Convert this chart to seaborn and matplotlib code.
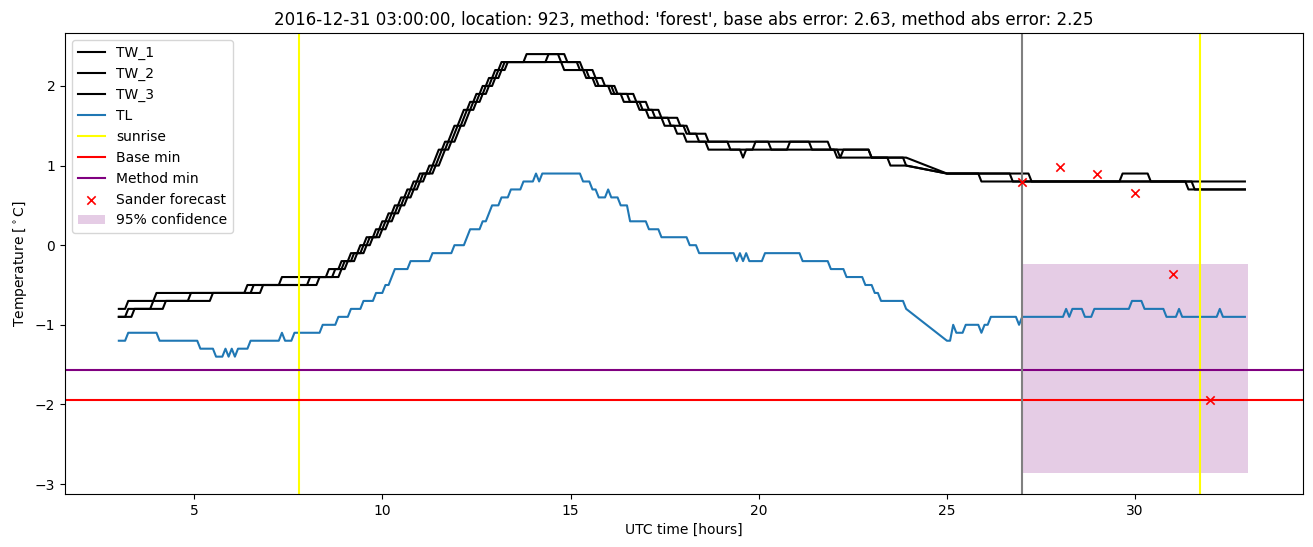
import numpy as np
import matplotlib
matplotlib.use("Agg")
import matplotlib.pyplot as plt
import seaborn as sns

# ---------------- data (5-minute samples, run-length encoded: level, number of samples) ----------------
start_hour = 3.0
step_minutes = 5
G = None  # missing samples (gap in the record)

tw1_levels = [-0.8, -0.7, -0.6, -0.5, -0.4, -0.3, -0.2, -0.1, 0.0, 0.1, 0.2, 0.3, 0.4, 0.5, 0.6, 0.7, 0.8,
              0.9, 1.0, 1.1, 1.2, 1.3, 1.4, 1.5, 1.6, 1.7, 1.8, 1.9, 2.0, 2.1, 2.2, 2.3, 2.4, 2.3, 2.2, 2.1,
              2.0, 1.9, 1.8, 1.7, 1.6, 1.5, 1.4, 1.3, 1.2, 1.1, 1.0, G, 0.9, 0.8, 0.7]
tw1_counts = [3, 9, 29, 11, 15, 4, 3, 3, 2, 3, 2, 2, 2, 2, 2, 2, 2,
              3, 2, 1, 2, 2, 1, 2, 1, 2, 2, 2, 2, 2, 2, 8, 13, 4, 3, 3,
              5, 5, 4, 4, 5, 5, 4, 42, 2, 17, 6, 12, 11, 66, 19]

tw2_levels = [-0.9, -0.8, -0.7, -0.6, -0.5, -0.4, -0.3, -0.2, -0.1, 0.0, 0.1, 0.2, 0.3, 0.4, 0.5, 0.6, 0.7,
              0.8, 0.9, 1.0, 1.1, 1.2, 1.3, 1.4, 1.5, 1.6, 1.7, 1.8, 1.9, 2.0, 2.1, 2.2, 2.3, 2.4, 2.3, 2.2,
              2.1, 2.0, 1.9, 1.8, 1.7, 1.6, 1.5, 1.4, 1.3, 1.2, 1.1, 1.2, 1.1, 1.2, 1.1, G, 0.9, 0.8, 0.7]
tw2_counts = [3, 8, 12, 20, 18, 8, 3, 3, 3, 2, 3, 2, 2, 2, 2, 2, 2,
              2, 3, 2, 1, 2, 2, 1, 2, 1, 2, 2, 2, 2, 2, 2, 14, 4, 1, 7,
              3, 5, 4, 5, 3, 5, 4, 3, 7, 11, 1, 30, 1, 9, 12, 12, 21, 58, 17]

tw3_levels = [-0.9, -0.8, -0.7, -0.6, -0.5, -0.4, -0.3, -0.2, -0.1, 0.0, 0.1, 0.2, 0.3, 0.4, 0.5, 0.6, 0.7,
              0.8, 0.9, 1.0, 1.1, 1.2, 1.3, 1.4, 1.5, 1.6, 1.7, 1.8, 1.9, 2.0, 2.1, 2.2, 2.3, 2.2, 2.1, 2.0,
              1.9, 1.8, 1.7, 1.6, 1.5, 1.4, 1.3, 1.2, 1.3, 1.2, 1.3, 1.2, 1.1, 1.0, G, 0.9, 0.8, 0.9, 0.8]
tw3_counts = [5, 10, 15, 16, 18, 7, 2, 3, 3, 2, 3, 2, 2, 2, 2, 2, 2,
              2, 3, 2, 1, 2, 2, 1, 2, 1, 2, 2, 2, 2, 2, 2, 24, 4, 3, 4,
              6, 4, 4, 6, 3, 6, 7, 8, 5, 6, 7, 19, 11, 1, 12, 27, 29, 9, 31]

tl_levels = [-1.2, -1.1, -1.2, -1.3, -1.4, -1.3, -1.4, -1.3, -1.4, -1.3, -1.2, -1.1, -1.2, -1.1, -1.0, -0.9,
             -0.8, -0.7, -0.6, -0.5, -0.4, -0.3, -0.2, -0.1, 0.0, 0.1, 0.2, 0.3, 0.4, 0.5, 0.6, 0.7, 0.8,
             0.9, 0.8, 0.9, 0.8, 0.7, 0.6, 0.7, 0.6, 0.5, 0.3, 0.2, 0.1, 0.0, -0.1, -0.2, -0.1, -0.2, -0.1,
             -0.2, -0.1, -0.2, -0.3, -0.4, -0.5, -0.6, -0.7, -0.8, G, -1.2, -1.0, -1.1, -1.0, -1.1, -1.0,
             -0.9, -1.0, -0.9, -0.8, -0.9, -0.8, -0.9, -0.8, -0.7, -0.8, -0.9, -0.8, -0.9, -0.8, -0.9]
tl_counts = [3, 10, 13, 5, 3, 1, 1, 1, 1, 4, 10, 1, 3, 9, 5, 4,
             4, 4, 3, 2, 1, 5, 7, 7, 4, 1, 4, 2, 1, 3, 3, 4, 4,
             1, 1, 13, 3, 2, 3, 1, 3, 3, 6, 4, 9, 3, 12, 1, 1, 1, 1,
             5, 12, 9, 5, 6, 3, 2, 8, 1, 12, 2, 1, 3, 5, 1, 2,
             9, 1, 14, 1, 1, 4, 3, 12, 4, 7, 4, 1, 12, 1, 8]

sunrise_hours = [7.78, 31.73]
forecast_start = 27.0
base_min = -1.94
method_min = -1.57
sander_hours = [27, 28, 29, 30, 31, 32]
sander_temps = [0.79, 0.98, 0.89, 0.65, -0.36, -1.94]
conf_hours = [27.0, 33.0]
conf_low = -2.857
conf_high = -0.238

title = ("2016-12-31 03:00:00, location: 923, method: 'forest', "
         "base abs error: 2.63, method abs error: 2.25")


def expand(levels, counts):
    vals = np.repeat(np.array([np.nan if v is None else v for v in levels], dtype=float), counts)
    hours = start_hour + np.arange(len(vals)) * step_minutes / 60.0
    keep = ~np.isnan(vals)
    return hours[keep], vals[keep]


# ---------------- figure ----------------
fig, ax = plt.subplots(figsize=(13.13, 5.47), dpi=100)
fig.subplots_adjust(left=65 / 1313, right=1303 / 1313, bottom=1 - 494 / 547, top=1 - 33 / 547)

for name, lv, ct in [("TW_1", tw1_levels, tw1_counts),
                     ("TW_2", tw2_levels, tw2_counts),
                     ("TW_3", tw3_levels, tw3_counts)]:
    h, v = expand(lv, ct)
    sns.lineplot(x=h, y=v, color="black", label=name, ax=ax, estimator=None, sort=False, linewidth=1.5)

h, v = expand(tl_levels, tl_counts)
sns.lineplot(x=h, y=v, color="#1f77b4", label="TL", ax=ax, estimator=None, sort=False, linewidth=1.5)

ax.axvline(sunrise_hours[0], color="yellow", label="sunrise")
ax.axvline(sunrise_hours[1], color="yellow")
ax.axhline(base_min, color="red", label="Base min")
ax.axhline(method_min, color="purple", label="Method min")
ax.axvline(forecast_start, color="gray")

sns.scatterplot(x=sander_hours, y=sander_temps, marker="x", color="red", s=36, linewidth=1.2,
                label="Sander forecast", ax=ax, zorder=3)
ax.fill_between(conf_hours, conf_low, conf_high, color="purple", alpha=0.2, linewidth=0,
                label="95% confidence")

ax.set_xlim(1.57, 34.46)
ax.set_ylim(-3.125, 2.665)
ax.set_xlabel("UTC time [hours]")
ax.set_ylabel("Temperature [$^\\circ$C]")
ax.set_title(title)
ax.legend(loc="upper left")

fig.savefig("out.png", dpi=100)
